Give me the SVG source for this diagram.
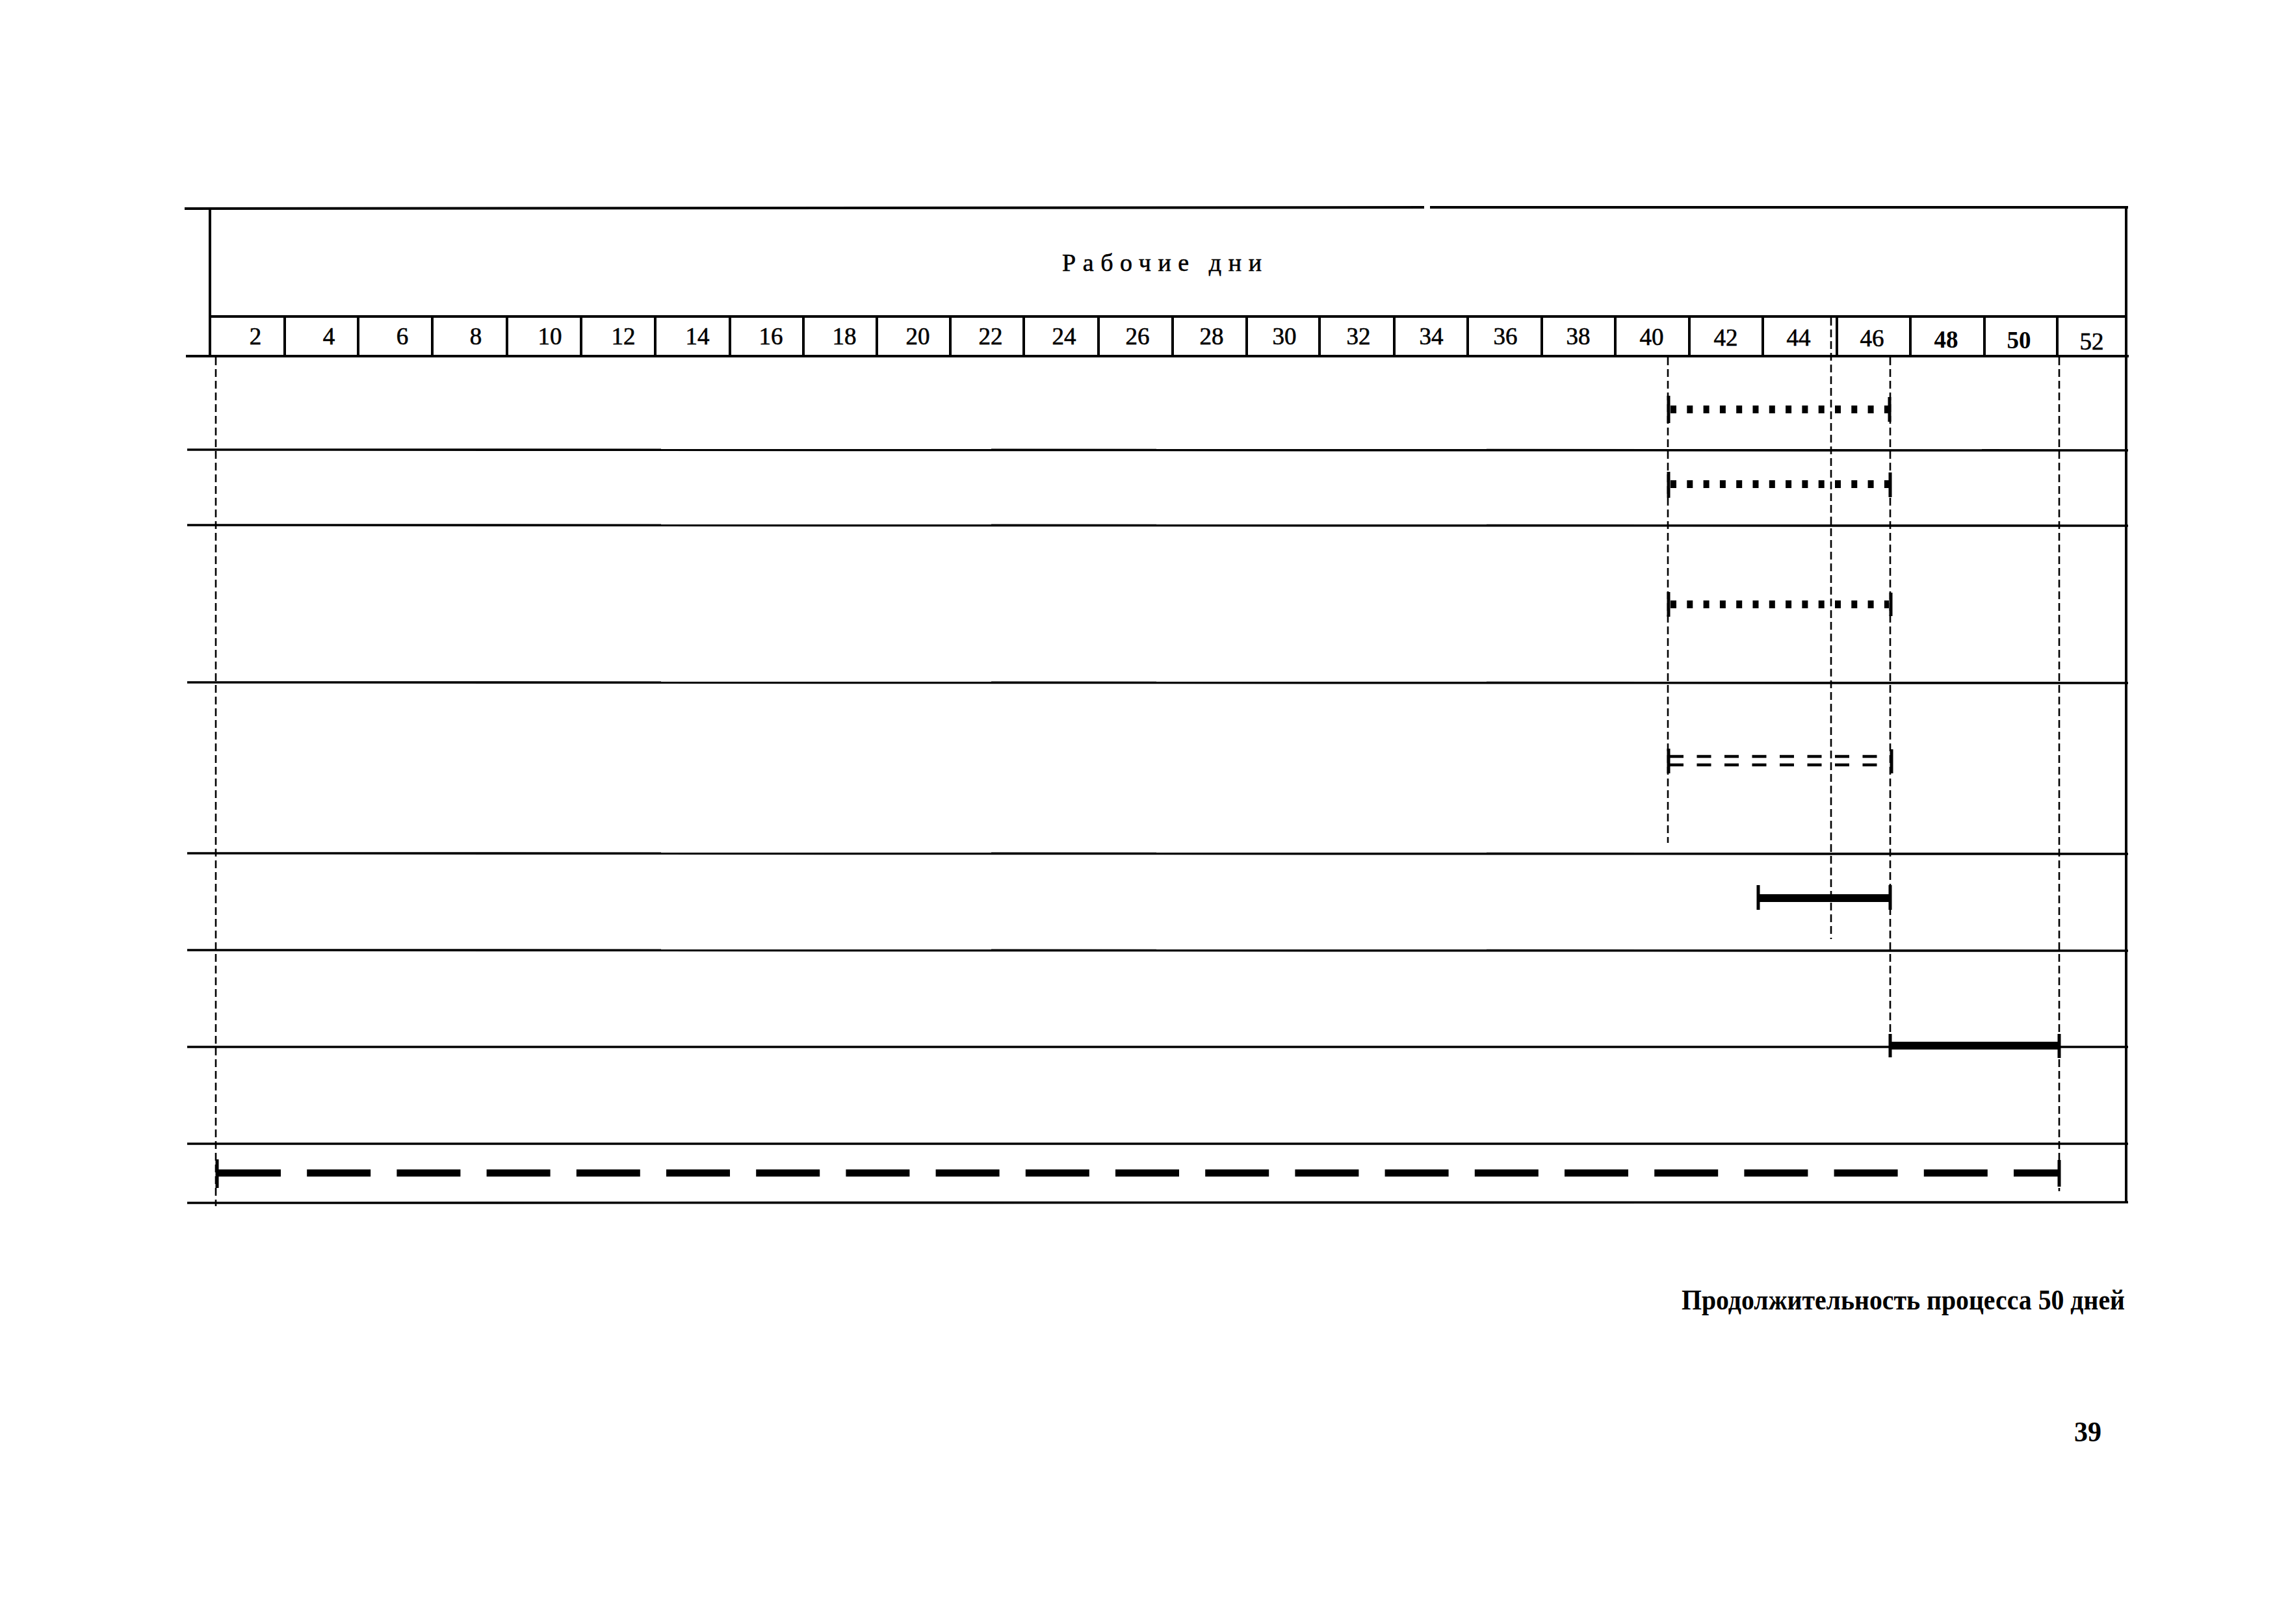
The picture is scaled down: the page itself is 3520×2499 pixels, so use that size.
<svg xmlns="http://www.w3.org/2000/svg" width="3520" height="2499" viewBox="0 0 3520 2499">
<style>
  .bg{fill:#ffffff}
  .grid{stroke:#000;stroke-width:3.6;fill:none}
  .frame{stroke:#000;stroke-width:4;fill:none}
  .div{stroke:#000;stroke-width:4;fill:none}
  .guide{stroke:#000;stroke-width:2.6;stroke-dasharray:12 6;fill:none}
  .num{font-family:"Liberation Serif","Times New Roman",serif;font-size:37px;fill:#000;text-anchor:middle;stroke:#000;stroke-width:0.6}
  .numb{font-weight:bold;stroke-width:0}
  .title{font-family:"Liberation Serif","Times New Roman",serif;font-size:38px;fill:#000;stroke:#000;stroke-width:0.6}
  .foot{font-family:"Liberation Serif","Times New Roman",serif;font-size:45px;font-weight:bold;fill:#000}
  .tick{stroke:#000;stroke-width:5;fill:none}
  .dots{stroke:#000;stroke-width:12;stroke-dasharray:9 16.3;fill:none}
  .dbl{stroke:#000;stroke-width:4.5;stroke-dasharray:22 20.5;fill:none}
  .solid{stroke:#000;stroke-width:12;fill:none}
  .longdash{stroke:#000;stroke-width:11;stroke-dasharray:98 40.2;fill:none}
</style>
<rect class="bg" x="0" y="0" width="3520" height="2499"/>

<g id="table-frame">
  <line class="frame" x1="284" y1="321" x2="2191" y2="319"/>
  <line class="frame" x1="2200" y1="319" x2="3274" y2="319"/>
  <line class="frame" x1="323" y1="320" x2="323" y2="548"/>
  <line class="frame" x1="3271" y1="319" x2="3271" y2="1851"/>
</g>

<g id="header">
  <text class="title" x="1634" y="417" textLength="307" lengthAdjust="spacing">Рабочие дни</text>
</g>

<g id="day-row">
  <line class="frame" x1="323" y1="487" x2="3272" y2="487"/>
  <line class="frame" x1="286" y1="548" x2="3275" y2="548"/>
  <g id="day-dividers">
    <line class="div" x1="438" y1="487" x2="438" y2="548"/>
    <line class="div" x1="551" y1="487" x2="551" y2="548"/>
    <line class="div" x1="665" y1="487" x2="665" y2="548"/>
    <line class="div" x1="780" y1="487" x2="780" y2="548"/>
    <line class="div" x1="894" y1="487" x2="894" y2="548"/>
    <line class="div" x1="1008" y1="487" x2="1008" y2="548"/>
    <line class="div" x1="1123" y1="487" x2="1123" y2="548"/>
    <line class="div" x1="1236" y1="487" x2="1236" y2="548"/>
    <line class="div" x1="1349" y1="487" x2="1349" y2="548"/>
    <line class="div" x1="1462" y1="487" x2="1462" y2="548"/>
    <line class="div" x1="1575" y1="487" x2="1575" y2="548"/>
    <line class="div" x1="1690" y1="487" x2="1690" y2="548"/>
    <line class="div" x1="1804" y1="487" x2="1804" y2="548"/>
    <line class="div" x1="1918" y1="487" x2="1918" y2="548"/>
    <line class="div" x1="2030" y1="487" x2="2030" y2="548"/>
    <line class="div" x1="2145" y1="487" x2="2145" y2="548"/>
    <line class="div" x1="2258" y1="487" x2="2258" y2="548"/>
    <line class="div" x1="2372" y1="487" x2="2372" y2="548"/>
    <line class="div" x1="2485" y1="487" x2="2485" y2="548"/>
    <line class="div" x1="2599" y1="487" x2="2599" y2="548"/>
    <line class="div" x1="2712" y1="487" x2="2712" y2="548"/>
    <line class="div" x1="2826" y1="487" x2="2826" y2="548"/>
    <line class="div" x1="2939" y1="487" x2="2939" y2="548"/>
    <line class="div" x1="3053" y1="487" x2="3053" y2="548"/>
    <line class="div" x1="3165" y1="487" x2="3165" y2="548"/>
  </g>
  <g id="day-labels">
    <text class="num" x="393" y="530">2</text>
    <text class="num" x="506" y="530">4</text>
    <text class="num" x="619" y="530">6</text>
    <text class="num" x="732" y="530">8</text>
    <text class="num" x="846" y="530">10</text>
    <text class="num" x="959" y="530">12</text>
    <text class="num" x="1073" y="530">14</text>
    <text class="num" x="1186" y="530">16</text>
    <text class="num" x="1299" y="530">18</text>
    <text class="num" x="1412" y="530">20</text>
    <text class="num" x="1524" y="530">22</text>
    <text class="num" x="1637" y="530">24</text>
    <text class="num" x="1750" y="530">26</text>
    <text class="num" x="1864" y="530">28</text>
    <text class="num" x="1976" y="530">30</text>
    <text class="num" x="2090" y="530">32</text>
    <text class="num" x="2202" y="530">34</text>
    <text class="num" x="2316" y="530">36</text>
    <text class="num" x="2428" y="530">38</text>
    <text class="num" x="2541" y="531">40</text>
    <text class="num" x="2655" y="532">42</text>
    <text class="num" x="2767" y="532">44</text>
    <text class="num" x="2880" y="533">46</text>
    <text class="num numb" x="2994" y="535">48</text>
    <text class="num numb" x="3106" y="536">50</text>
    <text class="num" x="3218" y="538">52</text>
  </g>
</g>

<g id="row-lines">
  <line class="grid" x1="288" y1="692" x2="3274" y2="693"/>
  <line class="grid" x1="288" y1="808" x2="3274" y2="809"/>
  <line class="grid" x1="288" y1="1050" x2="3274" y2="1051"/>
  <line class="grid" x1="288" y1="1313" x2="3274" y2="1314"/>
  <line class="grid" x1="288" y1="1462" x2="3274" y2="1463"/>
  <line class="grid" x1="288" y1="1611" x2="3274" y2="1611"/>
  <line class="grid" x1="288" y1="1760" x2="3274" y2="1760"/>
  <line class="grid" x1="288" y1="1851" x2="3274" y2="1850"/>
</g>

<g id="connectors">
  <line class="guide" x1="332" y1="550" x2="332" y2="1856"/>
  <line class="guide" x1="2566" y1="550" x2="2566" y2="1297"/>
  <line class="guide" x1="2817" y1="489" x2="2817" y2="1445"/>
  <line class="guide" x1="2908" y1="550" x2="2908" y2="1620"/>
  <line class="guide" x1="3168" y1="550" x2="3168" y2="1833"/>
</g>

<g id="bar-1">
  <line class="tick" x1="2567" y1="609" x2="2567" y2="651"/>
  <line class="dots" x1="2570" y1="630" x2="2906" y2="630"/>
  <line class="tick" x1="2907" y1="611" x2="2907" y2="649"/>
</g>
<g id="bar-2">
  <line class="tick" x1="2567" y1="726" x2="2567" y2="766"/>
  <line class="dots" x1="2570" y1="745" x2="2906" y2="745"/>
  <line class="tick" x1="2908" y1="727" x2="2908" y2="765"/>
</g>
<g id="bar-3">
  <line class="tick" x1="2567" y1="911" x2="2567" y2="949"/>
  <line class="dots" x1="2570" y1="930" x2="2906" y2="930"/>
  <line class="tick" x1="2909" y1="912" x2="2909" y2="948"/>
</g>
<g id="bar-4">
  <line class="tick" x1="2567" y1="1152" x2="2567" y2="1190"/>
  <line class="dbl" x1="2568" y1="1164" x2="2890" y2="1164"/>
  <line class="dbl" x1="2568" y1="1177" x2="2890" y2="1177"/>
  <line class="tick" x1="2910" y1="1153" x2="2910" y2="1190"/>
</g>
<g id="bar-5">
  <line class="tick" x1="2705" y1="1362" x2="2705" y2="1400"/>
  <line class="solid" x1="2705" y1="1382" x2="2908" y2="1382"/>
  <line class="tick" x1="2908" y1="1362" x2="2908" y2="1400"/>
</g>
<g id="bar-6">
  <line class="tick" x1="2908" y1="1591" x2="2908" y2="1627"/>
  <line class="solid" x1="2908" y1="1609" x2="3168" y2="1609"/>
  <line class="tick" x1="3168" y1="1591" x2="3168" y2="1628"/>
</g>
<g id="bar-7">
  <line class="tick" x1="334" y1="1784" x2="334" y2="1828"/>
  <line class="longdash" x1="334" y1="1805" x2="3168" y2="1805"/>
  <line class="tick" x1="3168" y1="1785" x2="3168" y2="1826"/>
</g>

<g id="footer">
  <text class="foot" x="2587" y="2015" textLength="682" lengthAdjust="spacingAndGlyphs">Продолжительность процесса 50 дней</text>
  <text class="foot" x="3191" y="2218" font-size="45" textLength="42" lengthAdjust="spacingAndGlyphs">39</text>
</g>
</svg>
